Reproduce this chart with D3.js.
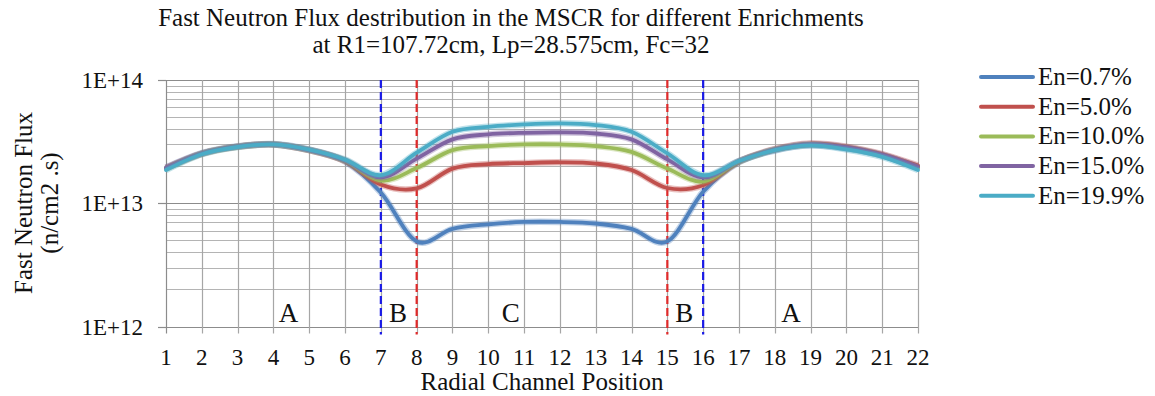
<!DOCTYPE html>
<html>
<head>
<meta charset="utf-8">
<script src="https://cdn.jsdelivr.net/npm/d3@7/dist/d3.min.js"></script>
<style>
  html, body { margin: 0; padding: 0; background: #fff; }
  svg { display: block; }
</style>
</head>
<body>
<svg id="chart" width="1155" height="396" font-family="'Liberation Serif', 'Times New Roman', serif"></svg>
<script>
// ---------- data ----------
const positions = d3.range(1, 23); // radial channel positions 1..22
const seriesNames = ["En=0.7%", "En=5.0%", "En=10.0%", "En=15.0%", "En=19.9%"];
const seriesColors = ["#4F81BD", "#C0504D", "#9BBB59", "#8064A2", "#4BACC6"];
// values in units of 1E+13 n/cm2.s
const en07  = [1.95, 2.55, 2.90, 3.02, 2.72, 2.18, 1.22, 0.49, 0.62, 0.675, 0.705, 0.705, 0.685, 0.62, 0.49, 1.24, 2.15, 2.68, 2.95, 2.78, 2.45, 1.95];
const en50  = [1.93, 2.53, 2.88, 3.00, 2.70, 2.20, 1.42, 1.32, 1.91, 2.08, 2.12, 2.15, 2.10, 1.86, 1.33, 1.40, 2.18, 2.75, 3.05, 2.88, 2.50, 2.02];
const en100 = [1.90, 2.52, 2.87, 3.00, 2.70, 2.22, 1.53, 1.93, 2.70, 2.91, 3.00, 3.00, 2.91, 2.61, 1.91, 1.50, 2.18, 2.72, 3.00, 2.82, 2.45, 1.95];
const en150 = [1.93, 2.53, 2.88, 3.00, 2.70, 2.23, 1.62, 2.30, 3.30, 3.62, 3.73, 3.76, 3.68, 3.30, 2.27, 1.62, 2.20, 2.73, 3.02, 2.85, 2.48, 1.98];
const en199 = [1.86, 2.50, 2.86, 3.00, 2.72, 2.26, 1.69, 2.57, 3.80, 4.17, 4.36, 4.45, 4.31, 3.80, 2.54, 1.69, 2.20, 2.70, 2.95, 2.73, 2.38, 1.86];
const seriesValues = [en07, en50, en100, en150, en199];
const yTickValues = [1e12, 1e13, 1e14];
const yTickLabels = ["1E+12", "1E+13", "1E+14"];
const boundaryBlue = [7, 16];
const boundaryRed = [8, 15];
const zoneLabels = ["A", "B", "C", "B", "A"];
const zonePositions = [4.42, 7.48, 10.63, 15.47, 18.45];
const titleLines = ["Fast Neutron Flux destribution in the MSCR for different Enrichments",
                    "at R1=107.72cm, Lp=28.575cm, Fc=32"];
const xTitle = "Radial Channel Position";
const yTitleLines = ["Fast Neutron Flux", "(n/cm2 .s)"];

const FONT = "'Liberation Serif', 'Times New Roman', serif";

// ---------- layout ----------
const svg = d3.select("#chart");
const x = d3.scaleLinear().domain([1, 22]).range([166, 918]);
const y = d3.scaleLog().domain([1e12, 1e14]).range([326.5, 80]);

// minor + major horizontal grid
const hGrid = [];
for (let e = 12; e < 14; e++) for (let m = 1; m < 10; m++) hGrid.push(m * Math.pow(10, e));
hGrid.push(1e14);
svg.append("g").selectAll("line").data(hGrid).join("line")
  .attr("x1", x(1)).attr("x2", x(22))
  .attr("y1", d => Math.round(y(d)) + 0.5).attr("y2", d => Math.round(y(d)) + 0.5)
  .attr("stroke", d => (Math.abs(Math.log10(d) - Math.round(Math.log10(d))) < 1e-9) ? "#8c8c8c" : "#b4b4b4")
  .attr("stroke-width", 1.2);

// vertical grid (with x ticks extending below)
svg.append("g").selectAll("line").data(positions).join("line")
  .attr("x1", d => Math.round(x(d)) + 0.5).attr("x2", d => Math.round(x(d)) + 0.5)
  .attr("y1", y(1e14)).attr("y2", y(1e12) + 7)
  .attr("stroke", d => d === 1 ? "#8c8c8c" : "#a6a6a6")
  .attr("stroke-width", 1.2);

// y ticks
svg.append("g").selectAll("line").data(yTickValues).join("line")
  .attr("x1", x(1) - 8).attr("x2", x(1))
  .attr("y1", d => Math.round(y(d)) + 0.5).attr("y2", d => Math.round(y(d)) + 0.5)
  .attr("stroke", "#8c8c8c").attr("stroke-width", 1.2);

svg.append("g").selectAll("text").data(yTickValues).join("text")
  .attr("font-family", FONT).attr("fill", "#111")
  .attr("x", 143).attr("y", d => y(d) + 8)
  .attr("text-anchor", "end").attr("font-size", 23)
  .text((d, i) => yTickLabels[i]);

// x tick labels
svg.append("g").selectAll("text").data(positions).join("text")
  .attr("font-family", FONT).attr("fill", "#111")
  .attr("x", d => x(d)).attr("y", 365)
  .attr("text-anchor", "middle").attr("font-size", 23)
  .text(d => d);

// boundaries
function dashed(vals, color) {
  svg.append("g").selectAll("line").data(vals).join("line")
    .attr("x1", d => x(d)).attr("x2", d => x(d))
    .attr("y1", y(1e14)).attr("y2", y(1e12) + 8)
    .attr("stroke", color).attr("stroke-width", 2.2)
    .attr("stroke-dasharray", "8,4");
}
dashed(boundaryBlue, "#1a1ae6");
dashed(boundaryRed, "#e02a2a");

// zone labels
svg.append("g").selectAll("text").data(zoneLabels).join("text")
  .attr("font-family", FONT).attr("fill", "#111")
  .attr("x", (d, i) => x(zonePositions[i])).attr("y", 322)
  .attr("text-anchor", "middle").attr("font-size", 27)
  .text(d => d);

// series
const line = d3.line()
  .x((d, i) => x(positions[i]))
  .y(d => y(d * 1e13))
  .curve(d3.curveCardinal.tension(0));
const gSeries = svg.append("g");
seriesValues.forEach((vals, k) => {
  gSeries.append("path").datum(vals)
    .attr("d", line).attr("fill", "none")
    .attr("stroke", seriesColors[k]).attr("stroke-opacity", 0.35)
    .attr("stroke-width", 6.5).attr("stroke-linejoin", "round");
  gSeries.append("path").datum(vals)
    .attr("d", line).attr("fill", "none")
    .attr("stroke", seriesColors[k])
    .attr("stroke-width", 3.8).attr("stroke-linejoin", "round").attr("stroke-linecap", "round");
});

// title
svg.append("g").selectAll("text").data(titleLines).join("text")
  .attr("font-family", FONT).attr("fill", "#111")
  .attr("x", 511).attr("y", (d, i) => 26 + i * 27)
  .attr("text-anchor", "middle").attr("font-size", 25)
  .text(d => d);

// x axis title
svg.append("text").attr("font-family", FONT).attr("fill", "#111")
  .attr("x", 542).attr("y", 390)
  .attr("text-anchor", "middle").attr("font-size", 25).text(xTitle);

// y axis title
svg.append("g").selectAll("text").data(yTitleLines).join("text")
  .attr("font-family", FONT).attr("fill", "#111")
  .attr("transform", (d, i) => `translate(${32 + i * 26},203) rotate(-90)`)
  .attr("text-anchor", "middle").attr("font-size", 25)
  .text(d => d);

// legend
const leg = svg.append("g").selectAll("g").data(seriesNames).join("g")
  .attr("transform", (d, i) => `translate(0,${77 + i * 29.7})`);
leg.append("line").attr("x1", 981).attr("x2", 1033).attr("y1", 0).attr("y2", 0)
  .attr("stroke", (d, i) => seriesColors[i]).attr("stroke-width", 4).attr("stroke-linecap", "round");
leg.append("text").attr("font-family", FONT).attr("fill", "#111")
  .attr("x", 1038).attr("y", 8).attr("font-size", 25).text(d => d);
</script>
</body>
</html>
